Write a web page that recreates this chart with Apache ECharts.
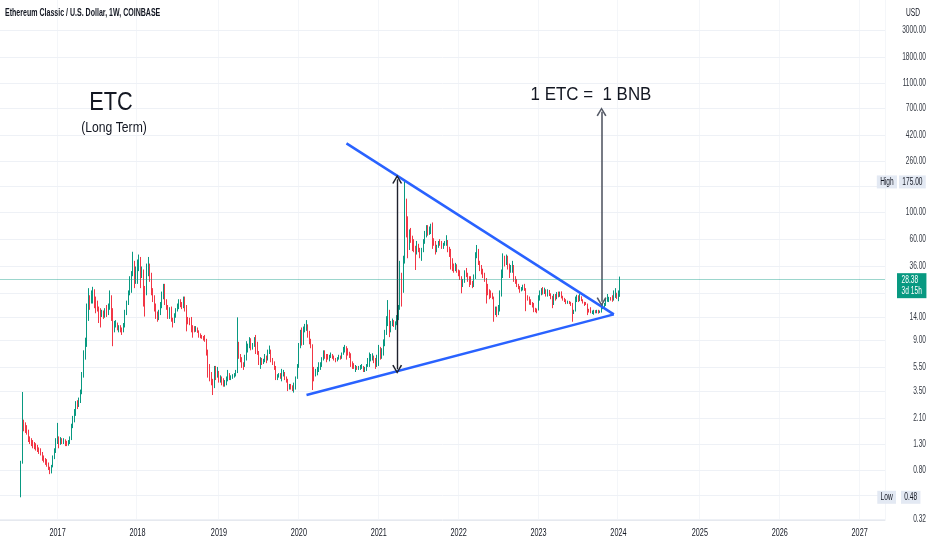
<!DOCTYPE html>
<html><head><meta charset="utf-8">
<script src="https://cdn.jsdelivr.net/npm/echarts@6/dist/echarts.min.js"></script>
<style>html,body{margin:0;padding:0;background:#fff}#c{width:932px;height:550px}</style>
</head><body><div id="c"></div>
<script>
// ---------- data ----------
const FIRST_WEEK = '2016-07-18';   // Monday of first weekly candle
const LEAD_WEEKS = 13;             // empty slots before first candle
const TOTAL_SLOTS = 576;           // weekly slots on the time scale (incl. future space)
const FIRST_OPEN = 0.76;

// weekly closes (one row per year)
const closeW = [
 0.93,1.93,1.85,1.75,1.6,1.42,1.38,1.35,1.26,1.25,1.2,1.16,1.15,1.08,0.98,0.96,0.93,0.88,0.82,0.77,0.86,1.0,1.15,1.35,
 1.45,1.3,1.42,1.35,1.38,1.32,1.3,1.32,1.42,1.78,2.05,2.3,2.78,2.65,2.9,3.4,4.6,6.65,8.5,15,20.4,18.5,21,23,20,18,16.5,15.4,15,15.3,14.5,15.5,15.4,16.5,20.4,16,11,12,12.4,11.3,11.5,11.2,10.96,12,15,18,21.7,28,31.6,35.8,29.7,33,
 38.5,43,33,34,23,22,35.8,37,29.7,23,20.4,17,14,13.9,15,16.9,21,25.4,19,17.5,15.5,15.9,13.5,12.8,14.5,15.9,16.9,18.6,17.5,16.9,19.8,17,13.2,13,12.4,12,11.2,11,11.2,10.8,10.2,9.8,9.7,9.2,9.1,7.5,5.5,4.85,4.3,3.79,5.18,4.6,
 4.9,4.3,4.5,4.3,4.0,4.0,4.4,4.85,4.5,4.55,4.6,4.75,5.0,7.5,6.8,6.3,5.7,5.6,6.5,7.5,8.0,9.3,8.0,8.2,9.3,8.6,7.2,6.0,6.3,5.9,6.2,6.5,6.3,7.4,7.5,6.3,6.0,5.5,4.6,4.6,4.7,4.6,4.9,4.9,4.5,4.3,3.8,3.9,3.8,3.7,4.0,4.45,
 5.5,8.0,9.8,8.5,11.0,11.7,11.7,10.5,9.1,8.3,4.9,4.85,5.0,5.2,5.5,5.6,6.3,7.1,6.8,6.65,6.6,6.6,6.9,6.65,6.4,6.2,6.35,6.6,6.5,6.9,7.6,7.7,7.3,7.1,6.8,5.9,5.7,5.5,5.5,5.4,5.4,5.5,5.5,5.2,5.2,5.6,6.2,6.4,6.5,6.65,6.2,5.8,6.2,
 7.6,7.1,7.3,8.3,10.5,12.2,15.5,11.2,12.3,12.8,12.2,12.3,13.6,16.5,28,24,40,115,80.7,62,64,60,57,50,47,53,49,44,50,58,66,73.5,67,72,76,60,56,49,52,56,55.5,53,53.8,55,59,52,46,40,37,35.8,36,33,
 31.7,29,26.3,27.5,32.6,31,29.7,27.5,27,24.7,29,45,49,38.2,36,33,31.7,28,24.7,22.5,21.8,21,20.4,15.9,16,15,16.5,21.5,31.7,43.2,39,40.6,37,33.7,35,35.8,29,27.9,25.5,24.5,23.1,23.6,24.7,23.8,20.4,19.8,19,18.1,17.6,16.3,16,15.9,
 19.5,21.8,23.1,22.5,23.1,21.5,21.8,21.5,20.5,18.5,20.4,20.2,21.8,21,21.5,20.4,19.5,19.2,18.1,18.4,18.3,18.1,15.4,15.6,19.2,20.4,19.3,20.4,19.2,18.4,18.1,17.9,15.9,15.8,15.4,15.4,15.6,15.4,15.6,15.3,15.5,16.5,17.2,17.5,19.2,19.5,19.8,19.5,19.2,20.4,20.9,20.4,
 21.3,28.38
];
// weekly highs
const highW = [
 0.95,3.44,2.05,1.95,1.85,1.7,1.5,1.45,1.4,1.35,1.32,1.28,1.22,1.2,1.12,1.05,1.0,0.98,0.92,0.85,0.88,1.05,1.2,1.45,
 1.93,1.5,1.48,1.45,1.45,1.42,1.38,1.4,1.5,1.9,2.2,2.5,2.9,2.95,3.1,3.6,5.0,7.5,9.5,18,24,21,23,24.6,23.5,20.5,19,17,16.5,16,15.8,16.5,17.5,18,23,21,16.5,13,13.2,12.6,12,12,11.5,12.5,16,19,23,30,33,47.4,40,36,
 41,45,43,36,33,25,38,43,38,32,24,21,18,15.5,16,18.5,22.5,26,26,19.5,17.5,16.8,17,13.8,15,16.5,18,19.5,19.5,18.5,20.5,20.5,17.5,14,13.8,14,12,11.8,11.8,11.5,10.9,10.3,10,9.8,10,9.3,7.6,5.8,5.0,4.4,5.6,5.6,
 5.5,5.1,4.7,4.6,4.45,4.3,4.6,5.2,4.9,4.7,4.8,4.9,5.2,13.9,8.8,7.0,6.6,6.0,6.9,8.9,8.5,9.6,9.4,8.6,9.6,10,8.8,7.4,6.6,6.5,6.4,7.0,6.8,7.6,8.2,7.6,6.5,6.1,5.6,4.8,4.9,4.9,5.3,5.2,5.0,4.6,4.4,4.0,4.0,3.9,4.1,4.6,
 5.8,8.6,11,11.5,11.7,12.3,13.2,12.2,10.8,9.3,8.4,5.5,5.3,5.5,6.0,6.0,6.6,7.5,7.5,7.0,7.0,6.9,7.2,7.0,6.8,6.5,6.6,6.9,6.8,7.2,8.0,8.3,8.1,7.8,7.3,7.1,6.1,5.9,5.7,5.6,5.6,5.7,5.8,5.6,5.5,5.8,6.5,7.2,7.0,7.1,6.8,6.5,6.9,
 8.3,8.0,7.8,9.2,11,14.2,19.2,16,13,13.6,13.2,12.9,14.5,17.5,40,32,44,176,128,92,72,74,64,60,53,58,55,51,51,60,70,78,78,76,80,82,61,58,54,58,60,58,56,58,64.6,58,52,50,42,38,38.5,37.5,
 34,33.5,30,28.5,33.5,35,32,30,30,27.5,31,47,53.8,50,40,37,34.5,32,29,26,23.5,23,22,20.5,17,17,17.5,23,34,46,44,45,44,38,37,40,37,30,28.5,26,25,24.5,25.6,26,24,21,20.5,19.5,18.5,18.2,16.6,16.4,
 21,23,24,24.5,24.2,23.5,23.5,23.2,21.8,20.8,21.5,21.5,22.3,22.5,22.5,22.6,20.8,20,19.5,19,18.9,18.6,18.2,16,20.5,21.2,21,21.5,20.6,19.5,18.6,18.5,18,16.3,16.8,15.8,16,15.9,16,16,15.8,16.9,17.8,18.2,20,21.5,20.4,20.3,21,23,24,22,
 23,29.8
];
// weekly lows
const lowW = [
 0.48,0.9,1.65,1.6,1.55,1.35,1.3,1.25,1.2,1.18,1.15,1.12,1.08,1.05,0.95,0.92,0.88,0.85,0.8,0.74,0.75,0.84,0.98,1.1,
 1.3,1.2,1.28,1.3,1.3,1.25,1.25,1.26,1.3,1.4,1.75,1.95,2.2,2.5,2.6,2.8,3.3,4.5,6.3,8,13,16,18,18,16.5,15,15.5,12.5,11.5,14,13.5,13.8,14,14.5,16,13,8.1,10.5,11.5,10.9,10.5,10.5,10,10.5,11.5,14.5,17.5,21,22,30,24,26,
 26,33,24,29,17,14.1,21,30,27,21,18.5,15.5,13.5,12.8,13.2,14.5,16.5,19.5,17.5,16,13.5,13.5,12.8,11.5,12.5,13.8,15.5,16.2,16.8,16.2,16.5,15.5,10.7,12.2,12,10.5,9.5,10.5,10.6,10.4,9.5,9.4,9.3,9.0,8.8,6.8,4.5,4.2,3.9,3.25,3.7,4.3,
 4.5,4.1,4.1,3.9,3.8,3.8,3.9,4.2,4.3,4.3,4.4,4.5,4.6,4.9,6.4,6.0,5.4,5.2,5.5,6.2,7.2,7.8,7.5,7.6,8.0,7.0,6.9,5.7,5.3,5.7,5.8,6.0,5.9,6.2,7.0,6.0,5.7,5.2,4.3,4.3,4.5,4.4,4.2,4.6,4.3,4.1,3.5,3.6,3.6,3.5,3.4,3.6,
 4.4,5.4,7.8,8.2,8.3,10.5,10.8,9.5,8.4,7.8,3.57,4.2,4.6,4.7,5.0,5.2,5.5,6.2,6.4,6.0,6.3,6.1,6.5,6.4,6.2,6.0,6.1,6.3,6.3,6.4,6.9,7.2,6.3,6.8,6.5,5.5,5.3,5.3,5.0,5.2,5.2,5.2,5.3,5.0,5.0,5.1,5.5,5.5,6.1,6.2,5.9,5.3,5.5,
 5.6,6.3,6.4,6.8,8.1,10,11.8,9.6,10.5,11.8,11.6,11,12,13.2,16,17,22,38,62,42,49,56,48,47,33.7,45,47,42,40,47,55,62,64,65,66,50,53,45,47,51,53,50,50,53,53,47,43,34,33,32,33,32,
 30,28,21.8,24.5,26.5,29.5,27,24.5,25.5,24,24.5,28.5,42,37,33,31,29,27,18,21,19.5,20,19.5,12.8,14.5,14,14.5,15.5,20.5,29,36,37,34,29,32,32,27,26,24.5,23.5,22,22.6,23,22.8,15.6,19,17.6,17.5,16.7,15.3,15.3,15,
 15.8,19,21,21.3,21.5,20.5,20.5,20.7,19.5,16.5,17.5,19,19.5,20.2,20.4,19.8,19,18.5,17.8,17.9,17.8,17.2,12.8,14.8,15.5,18.5,18.5,18.8,18.8,18,17.2,17.5,14.5,15.2,15,14.8,14.6,15,15,14.9,15.1,15.2,16.2,16.8,17.2,18.6,18.5,19,18.6,19,20,19.6,
 18.8,20.4
];

// price scale tick labels (TradingView style), and which are hidden behind badges
const priceTicks = [3000,1800,1100,700,420,260,160,100,60,36,22,14,9,5.5,3.5,2.1,1.3,0.8,0.5,0.32];
const hiddenTicks = [160,22,0.5];
const allTimeHigh = 175.00, allTimeLow = 0.48;
const lastPrice = 28.38, countdown = '3d 15h';

// drawing annotations as [week index, price]
const upperLine = [[212,360],[386,14.7]];
const lowerLine = [[186,3.25],[386,14.7]];
const arrowA = [[245,183.8],[245,5.26]];
const arrowB = [[378,650],[378,18.6]];

// ---------- build ----------
const FONT = '"Liberation Sans",Arial,sans-serif';
const SQ = 0.66; // horizontal squeeze of the reference's small texts
const DAY = 86400000;
const t0 = Date.parse(FIRST_WEEK + 'T00:00:00Z') - LEAD_WEEKS * 7 * DAY;
const cats = [];
for (let i = 0; i < TOTAL_SLOTS; i++) cats.push(new Date(t0 + i * 7 * DAY).toISOString().slice(0, 10));
const candles = cats.map((d, i) => {
  const k = i - LEAD_WEEKS;
  if (k < 0 || k >= closeW.length) return '-';
  const o = k === 0 ? FIRST_OPEN : closeW[k - 1];
  const c = closeW[k];
  return [o, c, Math.min(lowW[k], o, c), Math.max(highW[k], o, c)];
});
const cx = k => cats[k + LEAD_WEEKS];
const yearStart = (idx) => idx > 0 && cats[idx].slice(0, 4) !== cats[idx - 1].slice(0, 4);

const chevron = 'path://M0,10L5,0L10,10L8.6,10.8L5,3.2L1.4,10.8Z';

const seg = (pts, style, sym) => [
  { coord: [cx(pts[0][0]), pts[0][1]], lineStyle: style, symbol: sym || 'none', symbolSize: [10, 9] },
  { coord: [cx(pts[1][0]), pts[1][1]], symbol: sym || 'none', symbolSize: [10, 9] }
];

const option = {
  animation: false,
  backgroundColor: '#ffffff',
  grid: { left: 0, right: 47, top: 0, bottom: 30 },
  xAxis: {
    type: 'category', data: cats, boundaryGap: true,
    axisLine: { show: true, lineStyle: { color: '#e6e9ef' } },
    axisTick: { show: false },
    axisLabel: { show: false, interval: yearStart },
    splitLine: { show: true, interval: yearStart, lineStyle: { color: '#f4f6f9' } }
  },
  yAxis: {
    type: 'log', logBase: 10, min: 0.3139, max: 5258, position: 'right',
    axisLabel: { show: false }, splitLine: { show: false }, axisLine: { show: false }, axisTick: { show: false }
  },
  series: [
    {
      type: 'candlestick', data: candles, barWidth: 1, clip: false,
      itemStyle: { color: '#089981', color0: '#f23645', borderColor: '#089981', borderColor0: '#f23645', borderWidth: 1 },
      markLine: {
        silent: true, z: 1, symbol: 'none', animation: false,
        lineStyle: { color: '#eef1f6', width: 1, type: 'solid' },
        label: { show: false },
        data: priceTicks.map(v => ({ yAxis: v }))
      }
    },
    {
      type: 'line', data: [], clip: false,
      markLine: {
        silent: true, z: 6, symbol: 'none', animation: false,
        label: { show: false },
        data: [
          seg(upperLine, { color: '#2962ff', width: 2.5, type: 'solid' }),
          seg(lowerLine, { color: '#2962ff', width: 2.5, type: 'solid' }),
          seg(arrowA, { color: '#1e222d', width: 1.4, type: 'solid' }, chevron),
          seg(arrowB, { color: '#555a66', width: 1.6, type: 'solid' }, chevron),
          { yAxis: lastPrice, lineStyle: { color: 'rgba(8,153,129,0.4)', width: 1, type: 'solid' } }
        ]
      }
    }
  ]
};
const chart = echarts.init(document.getElementById('c'), null, { renderer: 'canvas' });
chart.setOption(option);

// texts placed through the chart's own scales
const py = v => chart.convertToPixel({ yAxisIndex: 0 }, v);
const px = c => chart.convertToPixel({ xAxisIndex: 0 }, c);
const T = (x, y, text, st, sx) => ({
  type: 'text', x: x, y: y, z: 100, scaleX: sx || 1,
  style: Object.assign({ text: text, fontFamily: FONT, fill: '#131722' }, st)
});
const g = [];
priceTicks.forEach(v => {
  if (hiddenTicks.indexOf(v) >= 0) return;
  g.push(T(926, py(v), v.toFixed(2), { fontSize: 10, align: 'right', verticalAlign: 'middle', fill: '#333842' }, SQ));
});
cats.forEach((c, i) => {
  if (yearStart(i)) g.push(T(px(c), 533, c.slice(0, 4), { fontSize: 11, align: 'center', verticalAlign: 'middle' }, SQ));
});
// High / Low badges
const badge = { fontSize: 10, verticalAlign: 'middle', backgroundColor: '#e3e9f3', padding: [2, 5, 1, 5] };
g.push(T(899, py(allTimeHigh), allTimeHigh.toFixed(2), Object.assign({ align: 'left' }, badge), SQ));
g.push(T(897, py(allTimeHigh), 'High', Object.assign({ align: 'right' }, badge), SQ));
g.push(T(901, py(allTimeLow), allTimeLow.toFixed(2), Object.assign({ align: 'left' }, badge), SQ));
g.push(T(896, py(allTimeLow), 'Low', Object.assign({ align: 'right' }, badge), SQ));
// last price badge
g.push(T(897, py(lastPrice) - 6, lastPrice.toFixed(2) + '\n' + countdown,
  { fontSize: 10, lineHeight: 11, align: 'left', verticalAlign: 'top', fill: '#ffffff', backgroundColor: '#089981', padding: [2, 7, 1, 7] }, SQ));
// header + annotations
g.push(T(5, 13, 'Ethereum Classic / U.S. Dollar, 1W, COINBASE', { fontSize: 11, fontWeight: 'bold', align: 'left', verticalAlign: 'middle' }, 0.64));
g.push(T(920, 13, 'USD', { fontSize: 10, align: 'right', verticalAlign: 'middle' }, SQ));
g.push(T(111, 103, 'ETC', { fontSize: 25, align: 'center', verticalAlign: 'middle' }, 0.87));
g.push(T(114, 128, '(Long Term)', { fontSize: 14, align: 'center', verticalAlign: 'middle' }, 0.87));
g.push(T(591, 95, '1 ETC =  1 BNB', { fontSize: 19, align: 'center', verticalAlign: 'middle' }, 0.89));
chart.setOption({ graphic: g });
</script>
</body></html>
